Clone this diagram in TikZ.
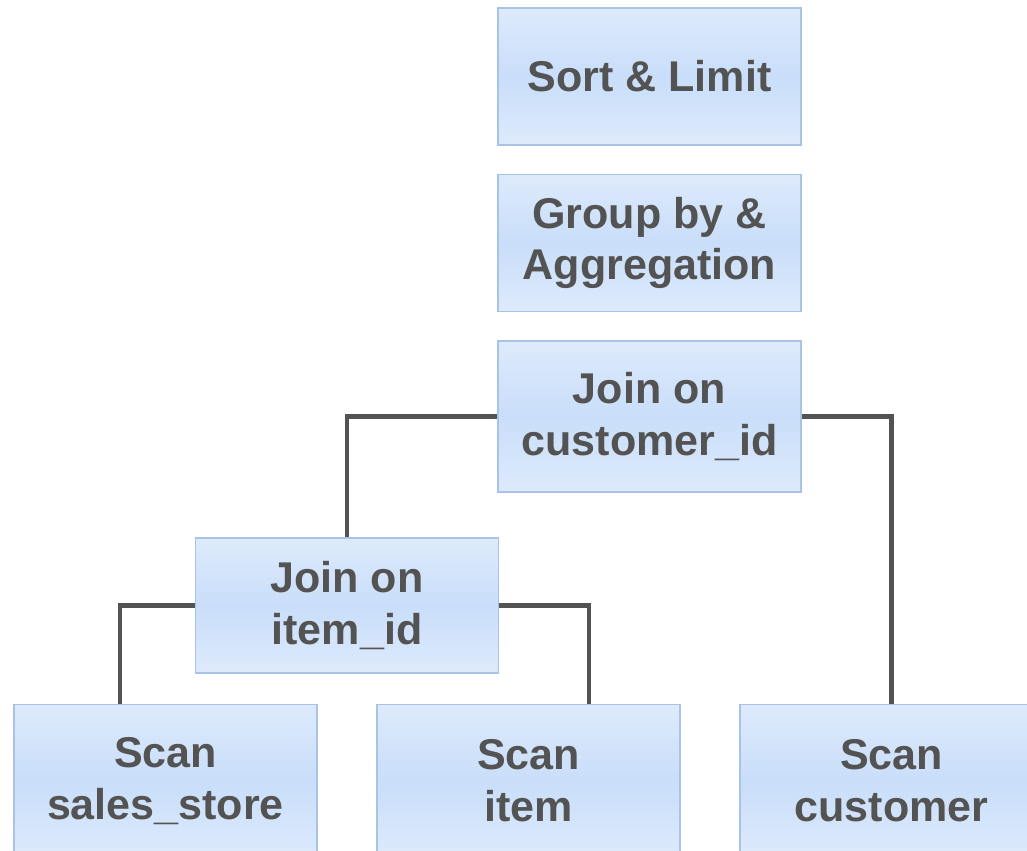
\documentclass[tikz,border=0pt]{standalone}
\usepackage{fontspec}
\setmainfont{Liberation Sans}
\definecolor{boxtop}{HTML}{DDEAFB}
\definecolor{boxmid}{HTML}{C9DEFA}
\definecolor{boxedge}{HTML}{A9C3E6}
\definecolor{ink}{HTML}{535353}
\tikzset{
  opbox/.style={draw=boxedge, line width=1pt, top color=boxtop, bottom color=boxtop,
    middle color=boxmid, minimum width=6.06cm, minimum height=2.74cm,
    align=center, text=ink, font=\fontsize{24.5}{29.5}\selectfont\bfseries},
  link/.style={draw=ink, line width=2.8pt}
}
\begin{document}
\begin{tikzpicture}[x=0.02cm,y=-0.02cm]
        \useasboundingbox (0,0) rectangle (1027,851);
        \node[opbox] (sort) at (649.5,76.5) {Sort \& Limit};
        \node[opbox] (group) at (649.5,243) {Group by \&\\Aggregation};
        \node[opbox, minimum height=3.02cm] (joincust) at (649.5,416.5) {Join on\\customer\_id};
        \node[opbox, minimum height=2.7cm] (joinitem) at (347,605.5) {Join on\\item\_id};
        \node[opbox, minimum height=3.06cm] (scanstore) at (165.5,781) {Scan\\sales\_store};
        \node[opbox, minimum height=3.06cm] (scanitem) at (528.5,781) {Scan\\item};
        \node[opbox, minimum height=3.06cm] (scancust) at (891.5,781) {Scan\\customer};
        \draw[link] (joincust.west) -| (joinitem.north);
        \draw[link] (joincust.east) -| (scancust.north);
        \draw[link] (joinitem.west) -| ([xshift=-0.91cm]scanstore.north);
        \draw[link] (joinitem.east) -| ([xshift=1.21cm]scanitem.north);
    \end{tikzpicture}
\end{document}
